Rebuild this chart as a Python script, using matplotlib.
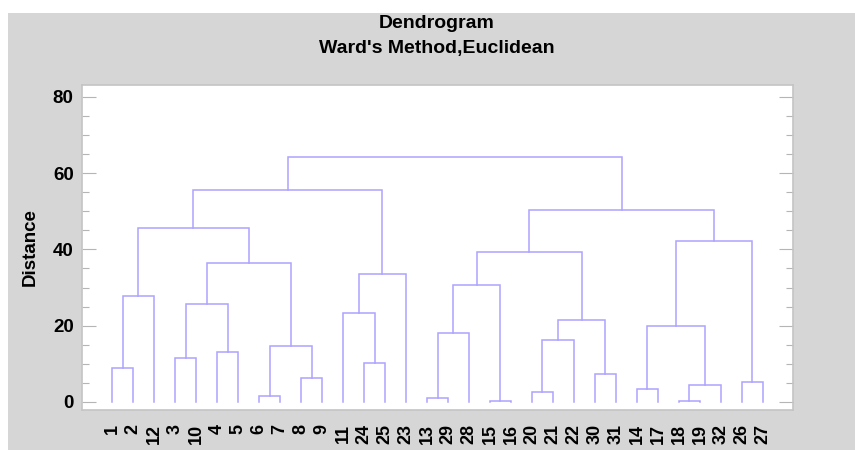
import matplotlib
matplotlib.use("Agg")
import matplotlib.pyplot as plt
from matplotlib.patches import Rectangle

plt.rcParams['font.family'] = ['Liberation Sans Narrow', 'Liberation Sans', 'DejaVu Sans']
plt.rcParams['font.weight'] = 'bold'

# merges: leaves are ints (observation numbers), "cK" = result of merge row K
merge_left = [1, "c0", 3, 4, "c2", 6, 8, "c5", "c4", "c1",
              24, 11, "c11", "c9", 13, "c14", 15, "c15", 20, "c18",
              30, "c19", "c17", 14, 18, "c24", "c23", 26, "c26", "c22", "c13"]
merge_right = [2, 12, 10, 5, "c3", 7, 9, "c6", "c7", "c8",
               25, "c10", 23, "c12", 29, 28, 16, "c16", 21, 22,
               31, "c20", "c21", 17, 19, 32, "c25", 27, "c27", "c28", "c29"]
merge_height = [8.8, 27.9, 11.6, 13.2, 25.6, 1.6, 6.2, 14.7, 36.4, 45.7,
                10.3, 23.4, 33.5, 55.7, 1.1, 18.0, 0.3, 30.6, 2.5, 16.3,
                7.4, 21.5, 39.3, 3.4, 0.3, 4.4, 19.8, 5.2, 42.3, 50.2, 64.2]

y_ticks = [0, 20, 40, 60, 80]

line_color = '#ada3ff'
grey = '#d6d6d6'

fig = plt.figure(figsize=(8.55, 4.5), dpi=100)
fig.patches.append(Rectangle((8 / 855, 0), 1, 1 - 13 / 450, transform=fig.transFigure,
                             facecolor=grey, edgecolor='none', zorder=-10))
ax = fig.add_axes([82 / 855, 40 / 450, 711 / 855, 325 / 450])
ax.set_facecolor('white')

leaf_order = []


def draw(node):
    # returns (x, height) of node, drawing its U-link
    if not isinstance(node, str):
        leaf_order.append(node)
        return len(leaf_order) - 1, 0.0
    k = int(node[1:])
    xl, hl = draw(merge_left[k])
    xr, hr = draw(merge_right[k])
    h = merge_height[k]
    ax.plot([xl, xl, xr, xr], [hl, h, h, hr], color=line_color, lw=1.1,
            solid_joinstyle='miter')
    return (xl + xr) / 2, h


draw("c%d" % (len(merge_height) - 1))

ax.set_xlim(-1.43, len(leaf_order) - 1 + 1.43)
ax.set_ylim(-2.1, 83.1)
ax.set_xticks(range(len(leaf_order)))
ax.set_xticklabels([str(v) for v in leaf_order], rotation=90, fontsize=13,
                   fontweight='bold')
ax.tick_params(axis='x', length=0, pad=10)
ax.set_yticks(y_ticks)
ax.set_yticks(range(0, 81, 5), minor=True)
ax.tick_params(axis='y', which='major', direction='in', length=10, width=0.8,
               color='#b5b5b5', left=True, right=True, labelsize=13.5, pad=6)
ax.tick_params(axis='y', which='minor', direction='in', length=5, width=0.8,
               color='#b5b5b5', left=True, right=True)
for lab in ax.get_yticklabels():
    lab.set_fontweight('bold')
for s in ax.spines.values():
    s.set_color('#c4c4c4')
    s.set_linewidth(1.2)

ax.set_ylabel('Distance', fontsize=13.5, fontweight='bold', labelpad=10)
fig.text(437 / 855, 1 - 24 / 450, 'Dendrogram', ha='center', va='center',
         fontsize=14, fontweight='bold')
fig.text(437 / 855, 1 - 48 / 450, "Ward's Method,Euclidean", ha='center',
         va='center', fontsize=14, fontweight='bold')

fig.savefig('out.png', dpi=100, facecolor='white')
